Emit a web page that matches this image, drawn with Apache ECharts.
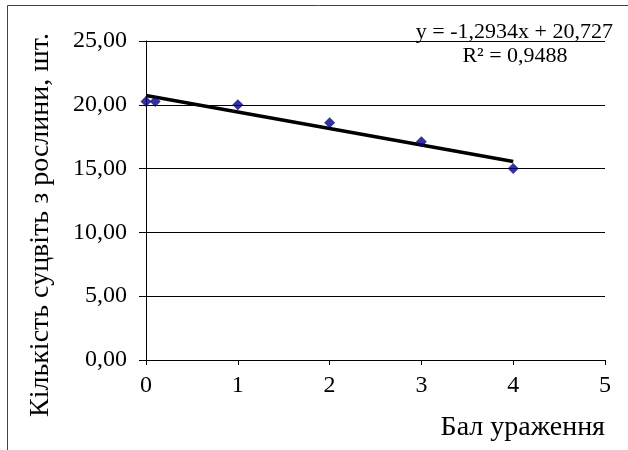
<!DOCTYPE html>
<html>
<head>
<meta charset="utf-8">
<script src="https://cdn.jsdelivr.net/npm/echarts@6/dist/echarts.min.js"></script>
<style>html,body{margin:0;padding:0;background:#fff}#c{width:628px;height:450px}</style>
</head>
<body>
<div id="c"></div>
<script>
const xValues = [0, 0.1, 1, 2, 3, 4];
const yValues = [20.25, 20.25, 20.0, 18.6, 17.1, 15.0];
const slope = -1.2934;
const intercept = 20.727;
const rSquared = '0,9488';
const trendX = [0, 4];
const yTicks = [0, 5, 10, 15, 20, 25];
const xTicks = [0, 1, 2, 3, 4, 5];
const yTitle = 'Кількість суцвіть з рослини, шт.';
const xTitle = 'Бал ураження';

const font = 'Liberation Serif, Times New Roman, serif';
const chart = echarts.init(document.getElementById('c'));
const fmt = v => v.toFixed(2).replace('.', ',');
chart.setOption({
  animation: false,
  backgroundColor: '#fff',
  grid: { left: 146, right: 23, top: 41, bottom: 90 },
  xAxis: {
    type: 'value', min: 0, max: 5, interval: 1,
    axisLine: { lineStyle: { color: '#000', width: 1 } },
    axisTick: { show: true, length: 5, lineStyle: { color: '#000' } },
    axisLabel: { color: '#000', fontFamily: font, fontSize: 24, margin: 14 },
    splitLine: { show: false }
  },
  yAxis: {
    type: 'value', min: 0, max: 25, interval: 5,
    axisLine: { show: true, lineStyle: { color: '#000', width: 1 } },
    axisTick: { show: true, length: 7, lineStyle: { color: '#000' } },
    axisLabel: { color: '#000', fontFamily: font, fontSize: 24, margin: 19, formatter: fmt },
    splitLine: { show: true, lineStyle: { color: '#000', width: 1 } }
  },
  graphic: [
    { type: 'rect', shape: { x: 7.5, y: 5.5, width: 700, height: 600 }, style: { fill: 'none', stroke: '#444', lineWidth: 1 }, z: -10 },
    { type: 'text', x: 41, y: 225, rotation: Math.PI / 2, style: { text: yTitle, font: '28px ' + font, fill: '#000', textAlign: 'center', textVerticalAlign: 'middle' } },
    { type: 'text', x: 605, y: 428, style: { text: xTitle, font: '28px ' + font, fill: '#000', textAlign: 'right', textVerticalAlign: 'middle' } },
    { type: 'text', x: 613, y: 32, style: { text: 'y = ' + String(slope).replace('.', ',') + 'x + ' + String(intercept).replace('.', ','), font: '22px ' + font, fill: '#000', textAlign: 'right', textVerticalAlign: 'middle' } },
    { type: 'text', x: 515, y: 56, style: { text: 'R² = ' + rSquared, font: '22px ' + font, fill: '#000', textAlign: 'center', textVerticalAlign: 'middle' } }
  ],
  series: [
    {
      type: 'line',
      data: trendX.map(x => [x, intercept + slope * x]),
      symbol: 'none',
      lineStyle: { color: '#000', width: 3.5 },
      z: 2
    },
    {
      type: 'scatter',
      data: xValues.map((x, i) => [x, yValues[i]]),
      symbol: 'diamond',
      symbolSize: [11, 11],
      itemStyle: { color: '#000080' },
      z: 3
    }
  ]
});
</script>
</body>
</html>
